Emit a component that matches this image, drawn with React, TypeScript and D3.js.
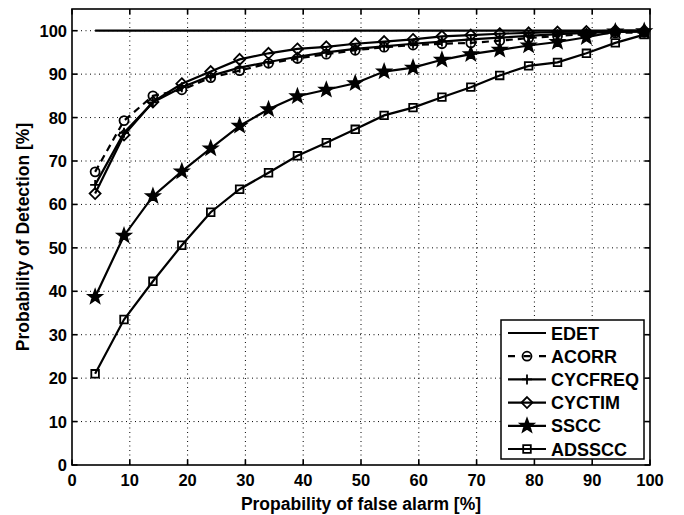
import React, { useEffect, useRef } from "react";
import * as d3 from "d3";

// false alarm probabilities (x) shared by all curves
const pfa = [4, 9, 14, 19, 24, 29, 34, 39, 44, 49, 54, 59, 64, 69, 74, 79, 84, 89, 94, 99];

const edet = [100, 100, 100, 100, 100, 100, 100, 100, 100, 100, 100, 100, 100, 100, 100, 100, 100, 100, 100, 100];
const acorr = [67.5, 79.3, 85, 86.4, 89.2, 90.8, 92.5, 93.6, 94.6, 95.5, 96.2, 96.7, 97, 97.2, 97.7, 98.3, 98.8, 99.2, 99.5, 99.6];
const cycfreq = [64.5, 76.5, 83.5, 87, 89.6, 91.5, 92.8, 94, 95, 95.8, 96.4, 97, 97.5, 98, 98.4, 98.8, 99.2, 99.5, 99.7, 99.8];
const cyctim = [62.5, 76, 83.6, 87.8, 90.6, 93.4, 94.8, 95.8, 96.3, 97, 97.5, 98, 98.7, 99, 99.3, 99.5, 99.7, 99.8, 100, 100];
const sscc = [38.7, 52.8, 61.9, 67.6, 72.9, 78.1, 81.9, 84.9, 86.4, 87.9, 90.6, 91.5, 93.3, 94.6, 95.6, 96.6, 97.4, 98.5, 99.8, 99.9];
const adsscc = [21, 33.5, 42.3, 50.6, 58.2, 63.5, 67.3, 71.2, 74.2, 77.3, 80.5, 82.3, 84.7, 87, 89.7, 91.9, 92.7, 94.8, 97.2, 99.1];

const seriesNames = ["EDET", "ACORR", "CYCFREQ", "CYCTIM", "SSCC", "ADSSCC"];
const seriesValues = [edet, acorr, cycfreq, cyctim, sscc, adsscc];
const seriesMarkers = ["none", "circle", "plus", "diamond", "star", "square"];

const xTicks = [0, 10, 20, 30, 40, 50, 60, 70, 80, 90, 100];
const yTicks = [0, 10, 20, 30, 40, 50, 60, 70, 80, 90, 100];

const markerPath = (type: string, x: number, y: number) => {
  if (type === "circle") {
    const r = 4.5;
    return `M${x + r},${y}A${r},${r} 0 1,1 ${x - r},${y}A${r},${r} 0 1,1 ${x + r},${y}Z`;
  }
  if (type === "plus") {
    const r = 5;
    return `M${x - r},${y}H${x + r}M${x},${y - r}V${y + r}`;
  }
  if (type === "diamond") {
    const r = 5.5;
    return `M${x},${y - r}L${x + r},${y}L${x},${y + r}L${x - r},${y}Z`;
  }
  if (type === "square") {
    const r = 3.8;
    return `M${x - r},${y - r}H${x + r}V${y + r}H${x - r}Z`;
  }
  if (type === "star") {
    const ro = 7, ri = 2.9;
    const pts: string[] = [];
    for (let i = 0; i < 10; i++) {
      const a = -Math.PI / 2 + (i * Math.PI) / 5;
      const r = i % 2 === 0 ? ro : ri;
      pts.push(`${x + r * Math.cos(a)},${y + r * Math.sin(a)}`);
    }
    return `M${pts.join("L")}Z`;
  }
  return "";
};

const App = () => {
  const svgRef = useRef<SVGSVGElement>(null);

  useEffect(() => {
    const width = 684;
    const height = 515;
    const margin = { top: 9, right: 34, bottom: 50, left: 72 };
    const w = width - margin.left - margin.right;
    const h = height - margin.top - margin.bottom;
    const font = "'Liberation Sans', Arial, sans-serif";

    d3.select(svgRef.current).selectAll("*").remove();

    const root = d3
      .select(svgRef.current)
      .attr("width", width)
      .attr("height", height)
      .style("position", "absolute")
      .style("left", "0px")
      .style("top", "0px")
      .style("background", "#fff");

    const svg = root.append("g").attr("transform", `translate(${margin.left},${margin.top})`);

    const x = d3.scaleLinear().domain([0, 100]).range([0, w]);
    const y = d3.scaleLinear().domain([0, 105]).range([h, 0]);

    // grid
    const grid = svg.append("g").attr("stroke", "#000").attr("stroke-width", 1).attr("stroke-dasharray", "1,3.5");
    xTicks.slice(1, -1).forEach((t) => {
      grid.append("line").attr("x1", x(t)).attr("x2", x(t)).attr("y1", 0).attr("y2", h);
    });
    yTicks.slice(1).forEach((t) => {
      grid.append("line").attr("x1", 0).attr("x2", w).attr("y1", y(t)).attr("y2", y(t));
    });

    // axes (ticks inward on all four sides)
    const tl = 5.5;
    const axisG = svg.append("g").attr("stroke", "#000").attr("stroke-width", 1.6);
    axisG.append("rect").attr("x", 0).attr("y", 0).attr("width", w).attr("height", h).attr("fill", "none");
    xTicks.forEach((t) => {
      axisG.append("line").attr("x1", x(t)).attr("x2", x(t)).attr("y1", h).attr("y2", h - tl);
      axisG.append("line").attr("x1", x(t)).attr("x2", x(t)).attr("y1", 0).attr("y2", tl);
    });
    yTicks.forEach((t) => {
      axisG.append("line").attr("x1", 0).attr("x2", tl).attr("y1", y(t)).attr("y2", y(t));
      axisG.append("line").attr("x1", w).attr("x2", w - tl).attr("y1", y(t)).attr("y2", y(t));
    });

    svg
      .append("g")
      .selectAll("text")
      .data(xTicks)
      .join("text")
      .attr("x", (d) => x(d))
      .attr("y", h + 21)
      .attr("text-anchor", "middle")
      .attr("font-family", font)
      .attr("font-weight", "bold")
      .attr("font-size", 16.5)
      .text((d) => d);

    svg
      .append("g")
      .selectAll("text")
      .data(yTicks)
      .join("text")
      .attr("x", -5)
      .attr("y", (d) => y(d) + 6)
      .attr("text-anchor", "end")
      .attr("font-family", font)
      .attr("font-weight", "bold")
      .attr("font-size", 16.5)
      .text((d) => d);

    svg
      .append("text")
      .attr("x", 361 - margin.left)
      .attr("y", h + 45)
      .attr("text-anchor", "middle")
      .attr("font-family", font)
      .attr("font-weight", "bold")
      .attr("font-size", 17.5)
      .text("Propability of false alarm [%]");

    svg
      .append("text")
      .attr("transform", `translate(${29 - margin.left},${237 - margin.top}) rotate(-90)`)
      .attr("text-anchor", "middle")
      .attr("font-family", font)
      .attr("font-weight", "bold")
      .attr("font-size", 17.5)
      .text("Probability of Detection [%]");

    // curves
    const line = d3
      .line<number>()
      .x((_, i) => x(pfa[i]))
      .y((d) => y(d));

    seriesValues.forEach((vals, k) => {
      const g = svg.append("g");
      g.append("path")
        .datum(vals)
        .attr("fill", "none")
        .attr("stroke", "#000")
        .attr("stroke-width", 2.2)
        .attr("stroke-dasharray", seriesMarkers[k] === "circle" ? "7,5" : null)
        .attr("d", line);
      if (seriesMarkers[k] !== "none") {
        g.selectAll("path.m")
          .data(vals)
          .join("path")
          .attr("class", "m")
          .attr("d", (d, i) => markerPath(seriesMarkers[k], x(pfa[i]), y(d)))
          .attr("fill", seriesMarkers[k] === "star" ? "#000" : "none")
          .attr("stroke", "#000")
          .attr("stroke-width", 1.8);
      }
    });

    // legend
    const lx = 501 - margin.left;
    const ly = 320 - margin.top;
    const leg = svg.append("g").attr("transform", `translate(${lx},${ly})`);
    leg
      .append("rect")
      .attr("width", 143)
      .attr("height", 139)
      .attr("fill", "#fff")
      .attr("stroke", "#000")
      .attr("stroke-width", 1.5);
    seriesNames.forEach((name, k) => {
      const yy = 13 + k * 23.2;
      leg
        .append("line")
        .attr("x1", 7)
        .attr("x2", 45)
        .attr("y1", yy)
        .attr("y2", yy)
        .attr("stroke", "#000")
        .attr("stroke-width", 2.2)
        .attr("stroke-dasharray", seriesMarkers[k] === "circle" ? "7,8.5" : null);
      if (seriesMarkers[k] !== "none") {
        leg
          .append("path")
          .attr("d", markerPath(seriesMarkers[k], 26, yy))
          .attr("fill", seriesMarkers[k] === "star" ? "#000" : "none")
          .attr("stroke", "#000")
          .attr("stroke-width", 1.8);
      }
      leg
        .append("text")
        .attr("x", 50)
        .attr("y", yy + 6.5)
        .attr("font-family", font)
        .attr("font-weight", "bold")
        .attr("font-size", 18)
        .text(name);
    });
  }, []);

  return <svg ref={svgRef}></svg>;
};

export default App;
